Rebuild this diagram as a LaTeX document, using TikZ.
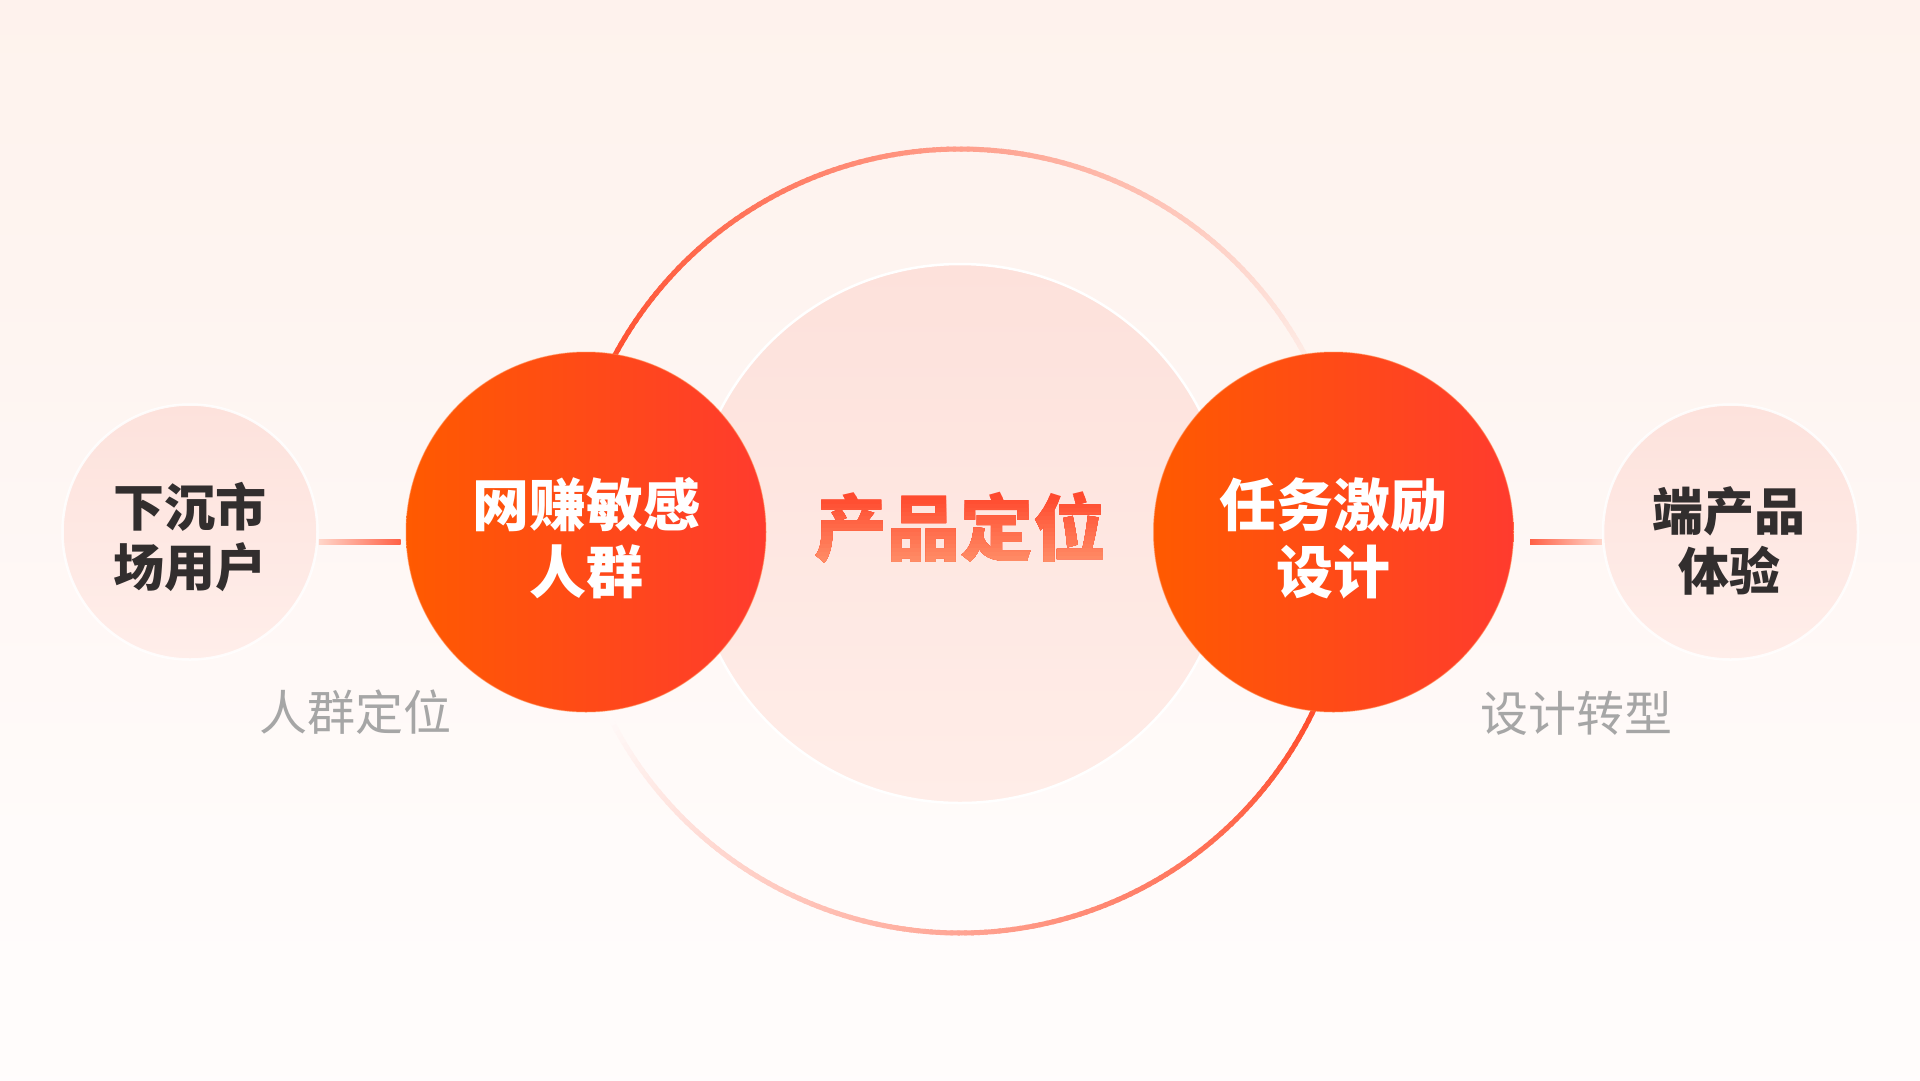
\documentclass[tikz,border=0pt]{standalone}
\usepackage{fontspec}
\setmainfont{Noto Sans CJK SC}
\usetikzlibrary{calc}
\definecolor{ringred}{HTML}{FF5030}
\definecolor{ringbgtop}{HTML}{FEF2ED}
\definecolor{bgT}{HTML}{FFEFE7}
\definecolor{bgM}{HTML}{FEF4F0}
\definecolor{bgB}{HTML}{FFFBFA}
\definecolor{redL}{HTML}{FF5A00}
\definecolor{redR}{HTML}{FF3B2E}
\definecolor{redrim}{HTML}{FF8A50}
\definecolor{paleT}{HTML}{FDE2DC}
\definecolor{paleB}{HTML}{FFEEEA}
\definecolor{cpaleT}{HTML}{FDE1DB}
\definecolor{cpaleB}{HTML}{FFEDE8}
\definecolor{darktext}{HTML}{322E2E}
\definecolor{graytext}{HTML}{A6A6A6}
\definecolor{cttop}{HTML}{FF4A2E}
\definecolor{ctbot}{HTML}{FF8E68}
\definecolor{connStrong}{HTML}{FF6045}
\definecolor{connPale}{HTML}{FFD6CA}
\pgfdeclareverticalshading{bgsh}{100bp}{color(0bp)=(white); color(36bp)=(bgB); color(62bp)=(bgM); color(100bp)=(bgT)}
\begin{document}
\begin{tikzpicture}[x=1pt,y=-1pt,
  redcirc/.style={circle, inner sep=0pt, minimum size=360pt, left color=redL, right color=redR, draw=redrim, draw opacity=0.5, line width=1pt},
  palecirc/.style={circle, inner sep=0pt, minimum size=255pt, top color=paleT, bottom color=paleB, draw=white, draw opacity=0.85, line width=2.5pt},
  centercirc/.style={circle, inner sep=0pt, minimum size=539pt, top color=cpaleT, bottom color=cpaleB, draw=white, line width=2.5pt},
  redtext/.style={anchor=base, inner sep=0pt, text=white, font=\bfseries\fontsize{57}{66}\selectfont},
  paletext/.style={anchor=base, inner sep=0pt, text=darktext, font=\bfseries\fontsize{51}{60}\selectfont},
  graylabel/.style={anchor=base, inner sep=0pt, text=graytext, font=\fontsize{48}{56}\selectfont},
  centertext/.style={anchor=base, inner sep=0pt, font=\bfseries\fontsize{73}{80}\selectfont}
]
\useasboundingbox (0,0) rectangle (1920,1080);
% background
\shade[shading=bgsh] (0,0) rectangle (1920,1080);

% central pale circle
\node[centercirc] (core) at (960,533.5) {};

% outer ring with fading colour, two halves
\begin{scope}[shift={(960,541)}, x=1pt, y=1pt]
  \foreach \a in {0,...,179}{
    \pgfmathsetmacro{\s}{max(0,min(100,100*(0.87-\a/180)/0.72))}
    \draw[line width=5pt, draw=ringred!\s!ringbgtop]
      (180-\a:392) arc[start angle=180-\a, end angle=180-\a-1.4, radius=392];
    \draw[line width=5pt, draw=ringred!\s!white]
      (-\a:392) arc[start angle=-\a, end angle=-\a-1.4, radius=392];
  }
\end{scope}

% side circles
\node[palecirc] (pl) at (190,532) {};
\node[palecirc] (pr) at (1730.5,532) {};

% red circles
\node[redcirc] (rl) at (586,532) {};
\node[redcirc] (rr) at (1333.5,532) {};

% connectors
\shade[left color=connPale, right color=connStrong]
  ([yshift=-7.5pt]pl.east) rectangle ([yshift=-12.5pt,xshift=-5pt]rl.west);
\shade[left color=connStrong, right color=connPale]
  ([yshift=-7.5pt,xshift=16pt]rr.east) rectangle ([yshift=-12.5pt]pr.west);

% texts in red circles
\node[redtext] (rl1) at (586,526.7) {网赚敏感};
\node[redtext] (rl2) at (586,593.7) {人群};
\node[redtext] (rr1) at (1333.5,526.7) {任务激励};
\node[redtext] (rr2) at (1333.5,593.7) {设计};

% texts in pale circles
\node[paletext] (pl1) at (190,526) {下沉市};
\node[paletext] (pl2) at (190,586) {场用户};
\node[paletext] (pr1) at (1729,530.4) {端产品};
\node[paletext] (pr2) at (1729,590.9) {体验};

% gray labels
\node[graylabel] (lab1) at (355,730.7) {人群定位};
\node[graylabel] (lab2) at (1576,731) {设计转型};

% center text with vertical gradient (painted in overlapping bands)
\node[centertext, text=cttop] (ct) at (960,555.2) {产品定位};
\foreach \k in {1,...,18}{
  \pgfmathsetmacro{\yk}{492+4*\k}
  \pgfmathsetmacro{\pk}{min(100,100*(\yk-495)/66)}
  \begin{scope}
    \clip (780,\yk) rectangle (1140,600);
    \node[centertext, text=ctbot!\pk!cttop] (ct\k) at (960,555.2) {产品定位};
  \end{scope}
}
\end{tikzpicture}
\end{document}
